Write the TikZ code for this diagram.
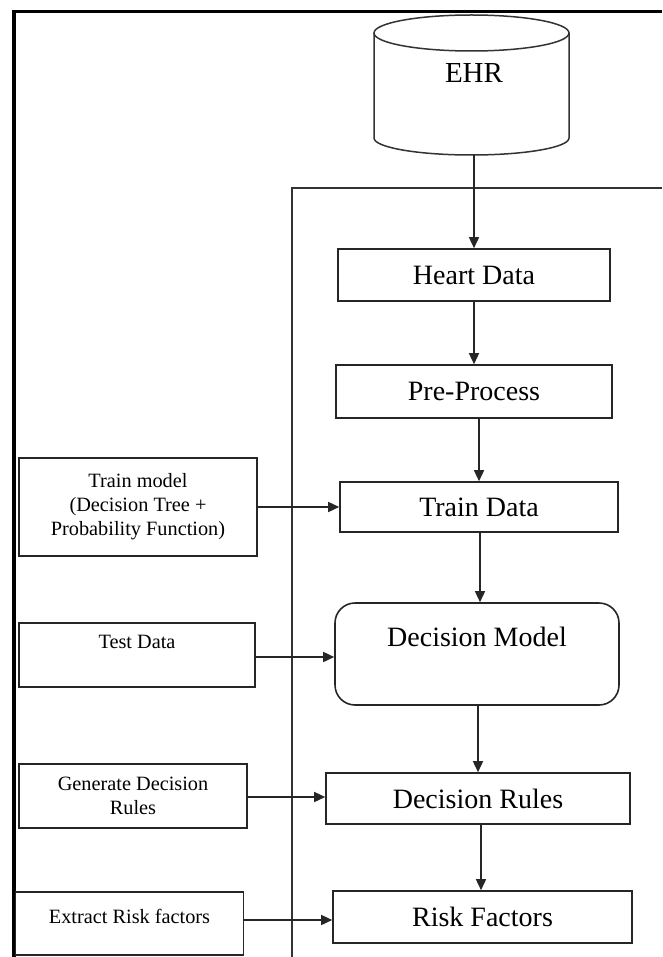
\documentclass[tikz,border=0pt]{standalone}
\usepackage{fontspec}
\setmainfont{Liberation Serif}
\usetikzlibrary{arrows.meta}

\tikzset{
  box/.style={draw=black!85, line width=1.6pt, inner sep=0pt, align=center},
  mainbox/.style={box, font=\fontsize{28}{33}\selectfont},
  sidebox/.style={box, font=\fontsize{20.3}{24}\selectfont},
  arr/.style={draw=black!85, line width=1.5pt, -{Triangle[length=11pt,width=10pt]}},
  frameline/.style={draw=black!80, line width=1.6pt},
}

\begin{document}
\begin{tikzpicture}[x=1pt, y=-1pt]
  \useasboundingbox (0,0) rectangle (662,957);

  % outer and inner frames
  \draw[black, line width=4pt] (13.5,957) -- (13.5,11.5);
  \draw[black, line width=2.5pt] (11.5,11.5) -- (662,11.5);
  \draw[frameline] (292,957) -- (292,188) -- (662,188);

  % EHR database cylinder
  \node[inner sep=0pt, minimum width=195pt, minimum height=140pt,
        text height=19pt, text depth=24pt,
        font=\fontsize{29}{34}\selectfont] (ehr) at (474,85) {EHR};
  \draw[black!80, line width=1.5pt]
    (374,33) -- (374,138)
    arc[start angle=180, end angle=360, x radius=97.5pt, y radius=17pt]
    -- (569,33);
  \draw[black!80, line width=1.5pt]
    (471.5,33) ellipse [x radius=97.5pt, y radius=18pt];

  % main flow
  \node[mainbox, minimum width=272pt, minimum height=52pt] (heart) at (474,275) {Heart Data};
  \node[mainbox, minimum width=276pt, minimum height=53pt] (pre) at (474,391.5) {Pre-Process};
  \node[mainbox, minimum width=278pt, minimum height=50pt] (train) at (479,507) {Train Data};
  \node[mainbox, rounded corners=20pt, minimum width=284pt, minimum height=102pt,
        text height=20pt, text depth=35.5pt] (dm) at (477,654) {Decision Model};
  \node[mainbox, minimum width=304pt, minimum height=51pt] (rules) at (478,798.5) {Decision Rules};
  \node[mainbox, minimum width=299pt, minimum height=52pt] (risk) at (482.5,917) {Risk Factors};

  % side inputs
  \node[sidebox, minimum width=238pt, minimum height=98pt] (tm) at (138,507)
    {Train model\\(Decision Tree +\\Probability Function)};
  \node[sidebox, minimum width=236pt, minimum height=64pt,
        text height=14pt, text depth=27pt] (test) at (137,655) {Test Data};
  \node[sidebox, minimum width=228pt, minimum height=64pt] (gen) at (133,796)
    {Generate Decision\\Rules};
  \node[sidebox, minimum width=228pt, minimum height=63pt,
        text height=14pt, text depth=14pt] (extract) at (129.5,923.5) {Extract Risk factors};

  % vertical connectors
  \draw[arr] (ehr.south) -- (heart.north);
  \draw[arr] (heart.south) -- (pre.north);
  \draw[arr] (pre.south -| train.north) -- (train.north);
  \draw[arr] (train.south -| 480,0) -- (dm.north -| 480,0);
  \draw[arr] (dm.south -| rules.north) -- (rules.north);
  \draw[arr] (rules.south -| 481,0) -- (risk.north -| 481,0);

  % horizontal connectors
  \draw[arr] (tm.east) -- (tm.east -| train.west);
  \draw[arr] (test.east |- 0,657) -- (dm.west |- 0,657);
  \draw[arr] (gen.east |- 0,797) -- (rules.west |- 0,797);
  \draw[arr] (extract.east |- 0,920) -- (risk.west |- 0,920);
\end{tikzpicture}
\end{document}
